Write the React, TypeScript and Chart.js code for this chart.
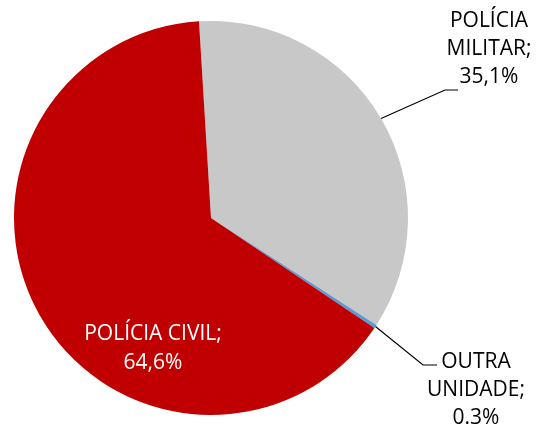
import { useEffect, useRef } from 'react';
import { Chart, registerables } from 'chart.js';

Chart.register(...registerables);

// slices, clockwise from just left of 12 o'clock
const categories = ['POLÍCIA MILITAR', 'OUTRA UNIDADE', 'POLÍCIA CIVIL'];
const values = [35.1, 0.3, 64.6];
const valueLabels = ['35,1%', '0.3%', '64,6%'];
const colors = ['#C8C8C8', '#5B9BD5', '#C00000'];

const FONT = '21px "Open Sans", "Noto Sans", sans-serif';

const labelPlugin = {
  id: 'sliceLabels',
  afterDraw(chart: Chart) {
    const ctx = chart.ctx;
    const arcs = chart.getDatasetMeta(0).data as any[];
    ctx.save();
    ctx.font = FONT;
    ctx.textAlign = 'center';
    ctx.textBaseline = 'middle';

    // leader line from slice edge (mid angle) to elbow, then short horizontal
    const leader = (arc: any, ex: number, ey: number, hx: number) => {
      const { x, y, startAngle, endAngle, outerRadius } = arc.getProps(
        ['x', 'y', 'startAngle', 'endAngle', 'outerRadius'],
        true
      );
      const mid = (startAngle + endAngle) / 2;
      const sx = x + Math.cos(mid) * outerRadius;
      const sy = y + Math.sin(mid) * outerRadius;
      ctx.beginPath();
      ctx.strokeStyle = '#000000';
      ctx.lineWidth = 1.2;
      ctx.moveTo(sx, sy);
      ctx.lineTo(ex, ey);
      ctx.lineTo(hx, ey);
      ctx.stroke();
    };

    // Polícia Militar
    leader(arcs[0], 445, 90, 458);
    ctx.fillStyle = '#000000';
    ctx.fillText('POLÍCIA', 489, 21);
    ctx.fillText('MILITAR;', 489, 49);
    ctx.fillText(valueLabels[0], 489, 77);

    // Outra unidade
    leader(arcs[1], 423, 365, 437);
    ctx.fillText('OUTRA', 476, 362);
    ctx.fillText('UNIDADE;', 476, 390);
    ctx.fillText(valueLabels[1], 476, 418);

    // Polícia Civil (inside)
    ctx.fillStyle = '#FFFFFF';
    ctx.fillText('POLÍCIA CIVIL;', 153, 334);
    ctx.fillText(valueLabels[2], 153, 363);
    ctx.restore();
  },
};

export default function App() {
  const chartRef = useRef<HTMLCanvasElement>(null);
  const chartInstanceRef = useRef<Chart | null>(null);

  useEffect(() => {
    if (!chartRef.current) return;
    if (chartInstanceRef.current) chartInstanceRef.current.destroy();

    chartInstanceRef.current = new Chart(chartRef.current, {
      type: 'pie',
      data: {
        labels: categories,
        datasets: [
          {
            data: values,
            backgroundColor: colors,
            borderWidth: 0,
            hoverOffset: 0,
          },
        ],
      },
      options: {
        responsive: false,
        animation: false,
        rotation: -3.5,
        layout: {
          padding: { left: 14, right: 130, top: 21, bottom: 13 },
        },
        plugins: {
          legend: { display: false },
          tooltip: { enabled: false },
        },
      },
      plugins: [labelPlugin],
    });

    return () => {
      if (chartInstanceRef.current) {
        chartInstanceRef.current.destroy();
        chartInstanceRef.current = null;
      }
    };
  }, []);

  return (
    <div style={{ position: 'fixed', left: 0, top: 0, width: 538, height: 428, background: '#fff' }}>
      <canvas ref={chartRef} width={538} height={428}></canvas>
    </div>
  );
}
